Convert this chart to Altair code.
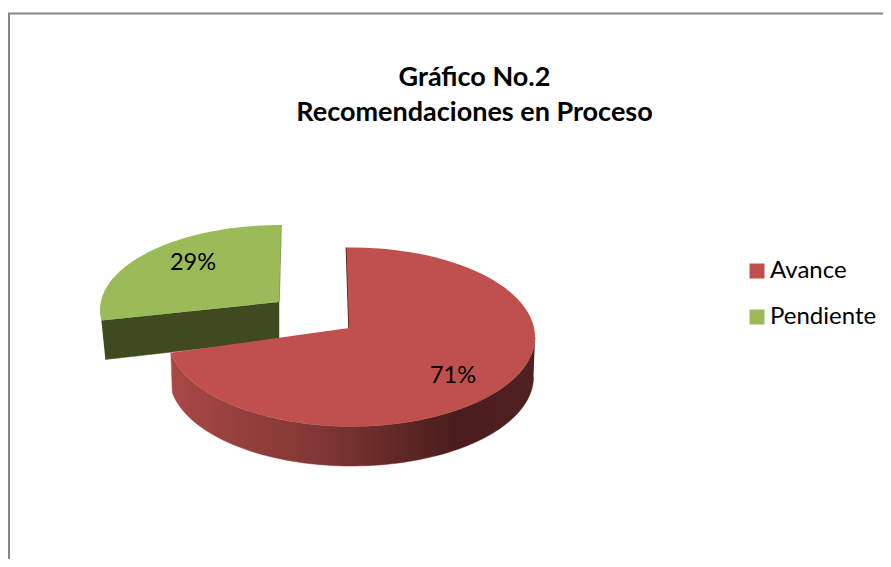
import math
import altair as alt
import pandas as pd

categories = ["Avance", "Pendiente"]
values = [71, 29]
colors = ["#c0504d", "#9bbb59"]
title_lines = ["Gráfico No.2", "Recomendaciones en Proceso"]

# Picture geometry of the tilted, exploded pie, in page pixels
RED = dict(cx=351.5, cy=337, rx=183.5, ry=89.5, apex=(349, 328), start=-1.6, warp=1.023)
RED_BASE = dict(cx=351.5, cy=377, rx=182, ry=89)
GREEN = dict(cx=281, cy=310, rx=181, ry=85, apex=(279, 302), start=0.0, warp=0.93)
GREEN_FACE_DROP = (4, 39)
LABEL_POS = {"Avance": (453, 376), "Pendiente": (193, 263)}


def arc(e, a0, a1, n=90):
    pts = []
    for i in range(n + 1):
        t = math.radians(a0 + (a1 - a0) * i / n)
        pts.append((e["cx"] + e["rx"] * math.sin(t), e["cy"] - e["ry"] * math.cos(t)))
    return pts


def frame(pts):
    return pd.DataFrame({"x": [p[0] for p in pts], "y": [p[1] for p in pts], "i": range(len(pts))})


total = sum(values)
red_span = values[0] / total * 360 * RED["warp"]
green_span = values[1] / total * 360 * GREEN["warp"]
red_end = RED["start"] + red_span
green_end = 360 + GREEN["start"] - green_span

red_arc = arc(RED, RED["start"], red_end)
green_arc = arc(GREEN, 360 + GREEN["start"], green_end)

red_top = frame(red_arc + [RED["apex"]]).assign(cat=categories[0])
green_top = frame(green_arc + [GREEN["apex"]]).assign(cat=categories[1])

side_top = arc(RED, 90, red_end)
side_base = arc(RED_BASE, 90, red_end)
red_side = frame(side_top + side_base[::-1])

g_end = green_arc[-1]
g_apex = GREEN["apex"]
green_face = frame([
    g_end, g_apex, (g_apex[0], g_apex[1] + 38),
    (g_end[0] + GREEN_FACE_DROP[0], g_end[1] + GREEN_FACE_DROP[1]),
])
green_edge = frame([green_arc[0], g_apex])
red_edge = frame([red_arc[0], RED["apex"]])

W, H = 875, 551
X = alt.X("x:Q", scale=alt.Scale(domain=[8, 8 + W]), axis=None)
Y = alt.Y("y:Q", scale=alt.Scale(domain=[8 + H, 8]), axis=None)
O = alt.Order("i:Q")
fill_scale = alt.Scale(domain=categories, range=colors)

side_gradient = alt.LinearGradient(
    gradient="linear", x1=0, x2=1, y1=0, y2=0,
    stops=[
        alt.GradientStop(color="#a84845", offset=0),
        alt.GradientStop(color="#7f3633", offset=0.42),
        alt.GradientStop(color="#4a1d1c", offset=0.78),
        alt.GradientStop(color="#4f2120", offset=1),
    ],
)

legend = alt.Legend(
    title=None, orient="none", legendX=737, legendY=251,
    symbolType="square", symbolSize=225, symbolStrokeWidth=0,
    labelFont="Lato", labelFontSize=24, labelColor="#000000",
    rowPadding=22, labelOffset=1, symbolOffset=0,
)


def poly(df, fill):
    return alt.Chart(df).mark_line(fill=fill, stroke=fill, strokeWidth=0.5).encode(x=X, y=Y, order=O)


def top(df):
    return alt.Chart(df).mark_line(strokeWidth=0).encode(
        x=X, y=Y, order=O,
        fill=alt.Fill("cat:N", scale=fill_scale, legend=legend),
    )


border_top = alt.Chart(pd.DataFrame({"a": [0]})).mark_rule(color="#868686", strokeWidth=2).encode(
    x=alt.value(0), x2=alt.value(W), y=alt.value(5.5))
border_left = alt.Chart(pd.DataFrame({"a": [0]})).mark_rule(color="#868686", strokeWidth=2).encode(
    x=alt.value(1), y=alt.value(5), y2=alt.value(H))

labels = pd.DataFrame({
    "x": [LABEL_POS[c][0] for c in categories],
    "y": [LABEL_POS[c][1] for c in categories],
    "t": [f"{v}%" for v in values],
})
text = alt.Chart(labels).mark_text(font="Lato", fontSize=23.5, color="#000000").encode(x=X, y=Y, text="t:N")

edge_g = alt.Chart(green_edge).mark_line(color="#7d9a48", strokeWidth=1.5).encode(x=X, y=Y, order=O)
edge_r = alt.Chart(red_edge).mark_line(color="#4a1d1c", strokeWidth=1.5).encode(x=X, y=Y, order=O)

chart = alt.layer(
    border_top, border_left,
    poly(green_face, "#404a20"),
    edge_g,
    top(green_top),
    poly(red_side, side_gradient),
    edge_r,
    top(red_top),
    text,
).resolve_scale(fill="shared").properties(
    width=W, height=H, padding=0, background="#ffffff",
    autosize=alt.AutoSizeParams(type="none"),
    title=alt.TitleParams(
        text=title_lines, anchor="middle", frame="group", dx=29, dy=123,
        font="Lato", fontSize=27, fontWeight="bold", color="#000000", lineHeight=35,
    ),
).configure_view(stroke=None)

chart.save("out.html", embed_options={"renderer": "svg", "actions": False})
